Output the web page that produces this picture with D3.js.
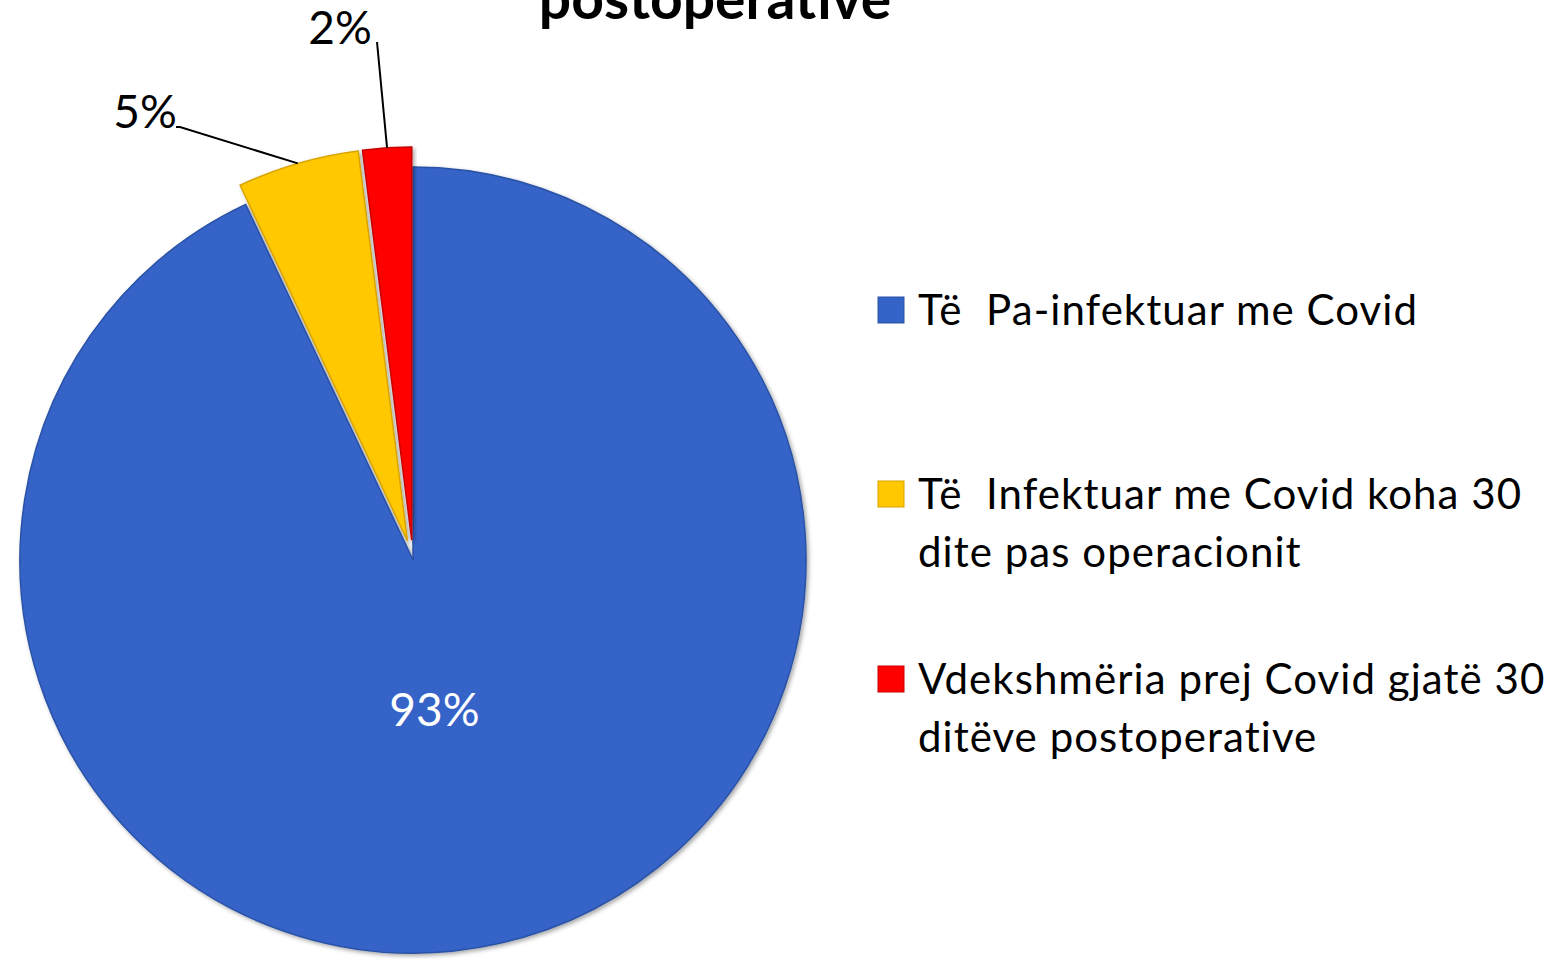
<!DOCTYPE html>
<html>
<head>
<meta charset="utf-8">
<script src="https://cdn.jsdelivr.net/npm/d3@7"></script>
<style>
  html, body { margin: 0; padding: 0; background: #fff; overflow: hidden; }
  text { font-family: Lato, "Open Sans", sans-serif; white-space: pre; }
</style>
</head>
<body>
<script>
// data
var categories = ["Të  Pa-infektuar me Covid",
                  "Të  Infektuar me Covid koha 30 dite pas operacionit",
                  "Vdekshmëria prej Covid gjatë 30 ditëve postoperative"];
var legendLines = [["Të  Pa-infektuar me Covid"],
                   ["Të  Infektuar me Covid koha 30", "dite pas operacionit"],
                   ["Vdekshmëria prej Covid gjatë 30", "ditëve postoperative"]];
var values = [93, 5, 2];
var valueLabels = ["93%", "5%", "2%"];
var colors = ["#3464c8", "#ffc800", "#ff0000"];
var edgeColors = ["#2a52a6", "#d9a400", "#c80000"];
var explode = [0, 20, 20];

var W = 1566, H = 959;
var cx = 413, cy = 560, R = 393;

var svg = d3.select("body").append("svg")
    .attr("width", W).attr("height", H);

var defs = svg.append("defs");
var f = defs.append("filter").attr("id", "shadow")
    .attr("x", "-10%").attr("y", "-10%").attr("width", "120%").attr("height", "120%");
f.append("feDropShadow").attr("dx", 2).attr("dy", 2).attr("stdDeviation", 2)
    .attr("flood-color", "#000").attr("flood-opacity", 0.35);

// title (only its last line shows, cut at the top edge like the reference)
svg.append("text")
    .attr("x", 715).attr("y", 19)
    .attr("text-anchor", "middle")
    .attr("font-size", 57).attr("font-weight", "bold")
    .attr("fill", "#000")
    .text("postoperative");

var pie = d3.pie().sort(null).value(function(d) { return d; });
var arcs = pie(values);
var arc = d3.arc().innerRadius(0).outerRadius(R);

var g = svg.append("g").attr("transform", "translate(" + cx + "," + cy + ")");

function offset(d, i) {
    var a = (d.startAngle + d.endAngle) / 2;
    return [Math.sin(a) * explode[i], -Math.cos(a) * explode[i]];
}

g.selectAll("path.slice")
    .data(arcs)
    .enter().append("path")
    .attr("class", "slice")
    .attr("d", arc)
    .attr("transform", function(d, i) {
        var o = offset(d, i);
        return "translate(" + o[0] + "," + o[1] + ")";
    })
    .attr("fill", function(d, i) { return colors[i]; })
    .attr("stroke", function(d, i) { return edgeColors[i]; })
    .attr("stroke-width", 1.5)
    .attr("filter", "url(#shadow)");

// inside label for the big slice
var inner = d3.arc().innerRadius(R * 0.39).outerRadius(R * 0.39);
var c0 = inner.centroid(arcs[0]);
g.append("text")
    .attr("x", c0[0] - 12).attr("y", c0[1] + 16)
    .attr("text-anchor", "middle")
    .attr("font-size", 46)
    .attr("fill", "#fff")
    .text(valueLabels[0]);

// outside labels with leader lines
var labelPos = [null, [145, 128], [340, 44]];
var lineEnd = [null, [180, 127], [377, 42]];
arcs.forEach(function(d, i) {
    if (i === 0) return;
    var a = (d.startAngle + d.endAngle) / 2;
    var o = offset(d, i);
    var sx = cx + o[0] + Math.sin(a) * R;
    var sy = cy + o[1] - Math.cos(a) * R;
    svg.append("path")
        .attr("d", "M" + sx + "," + sy + " L" + lineEnd[i][0] + "," + lineEnd[i][1] +
             (i === 1 ? " L" + (lineEnd[i][0] - 4) + "," + lineEnd[i][1] : ""))
        .attr("fill", "none").attr("stroke", "#000").attr("stroke-width", 2);
    svg.append("text")
        .attr("x", labelPos[i][0]).attr("y", labelPos[i][1])
        .attr("text-anchor", "middle")
        .attr("font-size", 46)
        .attr("fill", "#000")
        .text(valueLabels[i]);
});

// legend
var legendY = [310, 494, 679];
var leg = svg.append("g");
legendLines.forEach(function(lines, i) {
    leg.append("rect")
        .attr("x", 878).attr("y", legendY[i] - 13)
        .attr("width", 26).attr("height", 26)
        .attr("fill", colors[i])
        .attr("stroke", edgeColors[i]).attr("stroke-width", 1);
    lines.forEach(function(t, j) {
        leg.append("text")
            .attr("x", 918).attr("y", legendY[i] + 15 + j * 58)
            .attr("font-size", 42)
            .attr("letter-spacing", 1.05)
            .attr("fill", "#000")
            .text(t);
    });
});
</script>
</body>
</html>
